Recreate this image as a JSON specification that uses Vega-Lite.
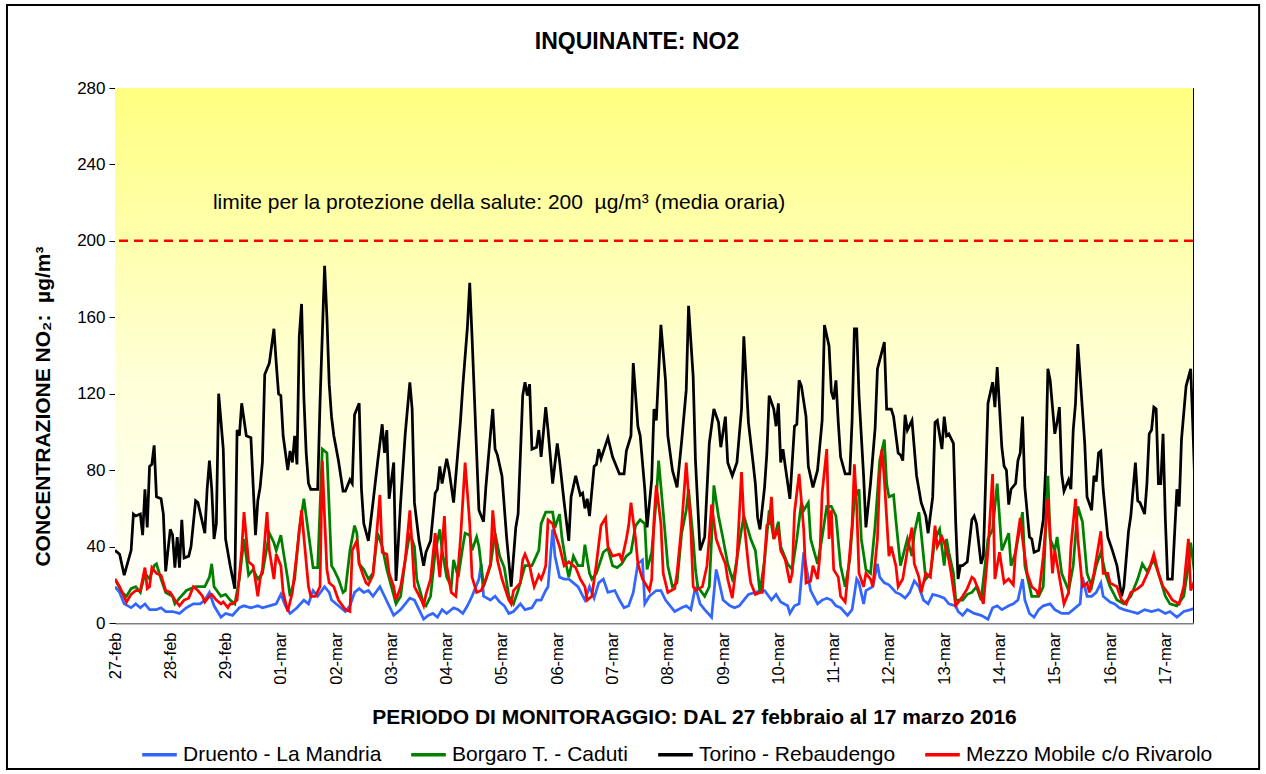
{
"$schema": "https://vega.github.io/schema/vega-lite/v6.json",
"width": 1078, "height": 535,
"autosize": {"type": "none"},
"padding": {"left": 115, "top": 88, "right": 73, "bottom": 151},
"background": "white",
"config": {"font": "Liberation Sans", "view": {"stroke": "black", "strokeWidth": 1}},
"datasets": {
"torino": [{"h":0,"v":38},{"h":2,"v":36},{"h":4,"v":25},{"h":7,"v":38},{"h":8,"v":57},{"h":9,"v":56},{"h":11,"v":57},{"h":12,"v":46},{"h":13,"v":70},{"h":14,"v":50},{"h":15,"v":82},{"h":16,"v":83},{"h":17,"v":93},{"h":18,"v":66},{"h":20,"v":65},{"h":21,"v":57},{"h":22,"v":27},{"h":24,"v":49},{"h":25,"v":46},{"h":26,"v":29},{"h":27,"v":45},{"h":28,"v":29},{"h":29,"v":54},{"h":30,"v":34},{"h":32,"v":35},{"h":33,"v":40},{"h":35,"v":64},{"h":36,"v":63},{"h":39,"v":47},{"h":40,"v":70},{"h":41,"v":85},{"h":42,"v":70},{"h":43,"v":44},{"h":44,"v":52},{"h":45,"v":120},{"h":47,"v":91},{"h":48,"v":44},{"h":50,"v":30},{"h":52,"v":18},{"h":53,"v":101},{"h":54,"v":98},{"h":55,"v":115},{"h":57,"v":98},{"h":59,"v":97},{"h":61,"v":46},{"h":62,"v":64},{"h":63,"v":71},{"h":64,"v":84},{"h":65,"v":130},{"h":67,"v":136},{"h":69,"v":154},{"h":70,"v":136},{"h":71,"v":120},{"h":72,"v":119},{"h":73,"v":98},{"h":75,"v":80},{"h":76,"v":90},{"h":77,"v":84},{"h":78,"v":98},{"h":79,"v":83},{"h":80,"v":150},{"h":81,"v":167},{"h":82,"v":118},{"h":83,"v":89},{"h":84,"v":73},{"h":85,"v":70},{"h":88,"v":70},{"h":89,"v":115},{"h":91,"v":187},{"h":92,"v":160},{"h":93,"v":125},{"h":94,"v":108},{"h":95,"v":98},{"h":97,"v":85},{"h":99,"v":69},{"h":100,"v":69},{"h":102,"v":75},{"h":103,"v":73},{"h":104,"v":109},{"h":106,"v":115},{"h":107,"v":70},{"h":108,"v":52},{"h":110,"v":43},{"h":112,"v":63},{"h":114,"v":84},{"h":116,"v":104},{"h":117,"v":89},{"h":118,"v":101},{"h":119,"v":65},{"h":121,"v":84},{"h":122,"v":22},{"h":123,"v":42},{"h":124,"v":63},{"h":126,"v":99},{"h":128,"v":126},{"h":129,"v":112},{"h":130,"v":63},{"h":132,"v":43},{"h":134,"v":30},{"h":135,"v":37},{"h":137,"v":43},{"h":139,"v":68},{"h":140,"v":70},{"h":141,"v":82},{"h":142,"v":73},{"h":144,"v":86},{"h":145,"v":80},{"h":147,"v":63},{"h":150,"v":106},{"h":151,"v":124},{"h":153,"v":155},{"h":154,"v":178},{"h":155,"v":150},{"h":157,"v":89},{"h":158,"v":59},{"h":160,"v":53},{"h":161,"v":71},{"h":163,"v":99},{"h":164,"v":112},{"h":165,"v":91},{"h":166,"v":88},{"h":168,"v":77},{"h":170,"v":45},{"h":172,"v":19},{"h":174,"v":50},{"h":175,"v":57},{"h":177,"v":119},{"h":178,"v":126},{"h":179,"v":119},{"h":180,"v":125},{"h":181,"v":91},{"h":183,"v":92},{"h":184,"v":101},{"h":185,"v":87},{"h":187,"v":113},{"h":188,"v":101},{"h":190,"v":73},{"h":192,"v":94},{"h":193,"v":85},{"h":195,"v":63},{"h":197,"v":43},{"h":198,"v":66},{"h":200,"v":77},{"h":202,"v":67},{"h":203,"v":68},{"h":204,"v":60},{"h":205,"v":65},{"h":206,"v":56},{"h":208,"v":82},{"h":209,"v":83},{"h":210,"v":91},{"h":211,"v":86},{"h":214,"v":97},{"h":216,"v":87},{"h":217,"v":84},{"h":219,"v":78},{"h":221,"v":78},{"h":222,"v":90},{"h":224,"v":98},{"h":225,"v":136},{"h":227,"v":103},{"h":228,"v":98},{"h":230,"v":70},{"h":231,"v":50},{"h":233,"v":75},{"h":234,"v":112},{"h":235,"v":106},{"h":237,"v":156},{"h":239,"v":127},{"h":240,"v":98},{"h":242,"v":80},{"h":244,"v":71},{"h":246,"v":95},{"h":248,"v":122},{"h":249,"v":166},{"h":251,"v":129},{"h":252,"v":85},{"h":254,"v":38},{"h":256,"v":45},{"h":258,"v":94},{"h":260,"v":112},{"h":262,"v":105},{"h":263,"v":92},{"h":265,"v":108},{"h":266,"v":84},{"h":268,"v":77},{"h":270,"v":84},{"h":272,"v":112},{"h":273,"v":150},{"h":275,"v":105},{"h":277,"v":84},{"h":278,"v":73},{"h":279,"v":55},{"h":280,"v":49},{"h":282,"v":71},{"h":283,"v":89},{"h":284,"v":119},{"h":286,"v":112},{"h":287,"v":103},{"h":288,"v":115},{"h":289,"v":84},{"h":290,"v":91},{"h":291,"v":82},{"h":293,"v":65},{"h":295,"v":103},{"h":296,"v":104},{"h":297,"v":127},{"h":298,"v":124},{"h":300,"v":108},{"h":301,"v":82},{"h":303,"v":71},{"h":305,"v":80},{"h":307,"v":106},{"h":308,"v":156},{"h":310,"v":145},{"h":311,"v":121},{"h":312,"v":117},{"h":313,"v":127},{"h":314,"v":105},{"h":315,"v":87},{"h":317,"v":78},{"h":319,"v":78},{"h":320,"v":106},{"h":321,"v":154},{"h":322,"v":154},{"h":323,"v":119},{"h":325,"v":77},{"h":326,"v":50},{"h":328,"v":73},{"h":330,"v":102},{"h":331,"v":133},{"h":334,"v":147},{"h":335,"v":112},{"h":337,"v":112},{"h":338,"v":108},{"h":340,"v":89},{"h":341,"v":88},{"h":342,"v":85},{"h":343,"v":109},{"h":344,"v":101},{"h":346,"v":106},{"h":348,"v":77},{"h":350,"v":63},{"h":352,"v":56},{"h":353,"v":47},{"h":355,"v":66},{"h":356,"v":105},{"h":357,"v":106},{"h":359,"v":91},{"h":360,"v":108},{"h":361,"v":98},{"h":362,"v":99},{"h":364,"v":94},{"h":365,"v":52},{"h":366,"v":23},{"h":367,"v":30},{"h":368,"v":30},{"h":369,"v":31},{"h":370,"v":32},{"h":372,"v":54},{"h":373,"v":56},{"h":374,"v":52},{"h":376,"v":31},{"h":377,"v":35},{"h":379,"v":115},{"h":381,"v":126},{"h":382,"v":113},{"h":383,"v":134},{"h":385,"v":92},{"h":386,"v":82},{"h":387,"v":80},{"h":388,"v":62},{"h":389,"v":70},{"h":391,"v":73},{"h":392,"v":85},{"h":393,"v":89},{"h":394,"v":108},{"h":395,"v":71},{"h":397,"v":45},{"h":398,"v":44},{"h":399,"v":37},{"h":401,"v":38},{"h":403,"v":54},{"h":404,"v":80},{"h":405,"v":133},{"h":406,"v":127},{"h":408,"v":99},{"h":409,"v":105},{"h":410,"v":113},{"h":411,"v":78},{"h":412,"v":69},{"h":414,"v":75},{"h":415,"v":70},{"h":416,"v":101},{"h":417,"v":115},{"h":418,"v":146},{"h":419,"v":129},{"h":421,"v":94},{"h":422,"v":66},{"h":424,"v":59},{"h":425,"v":77},{"h":426,"v":74},{"h":427,"v":89},{"h":428,"v":90},{"h":429,"v":70},{"h":431,"v":45},{"h":433,"v":38},{"h":435,"v":30},{"h":437,"v":14},{"h":438,"v":19},{"h":440,"v":48},{"h":441,"v":56},{"h":443,"v":84},{"h":444,"v":64},{"h":445,"v":63},{"h":447,"v":57},{"h":448,"v":73},{"h":449,"v":99},{"h":450,"v":101},{"h":451,"v":113},{"h":452,"v":112},{"h":453,"v":73},{"h":454,"v":73},{"h":455,"v":99},{"h":456,"v":54},{"h":457,"v":23},{"h":459,"v":23},{"h":461,"v":70},{"h":462,"v":61},{"h":463,"v":96},{"h":465,"v":124},{"h":467,"v":133},{"h":468,"v":101},{"h":469,"v":65}],
"borgaro": [{"h":0,"v":23},{"h":3,"v":16},{"h":5,"v":14},{"h":7,"v":18},{"h":9,"v":19},{"h":11,"v":16},{"h":13,"v":26},{"h":15,"v":23},{"h":17,"v":30},{"h":18,"v":31},{"h":20,"v":23},{"h":22,"v":16},{"h":25,"v":14},{"h":26,"v":10},{"h":28,"v":13},{"h":31,"v":17},{"h":35,"v":19},{"h":39,"v":19},{"h":41,"v":24},{"h":42,"v":31},{"h":43,"v":19},{"h":46,"v":14},{"h":48,"v":15},{"h":50,"v":12},{"h":52,"v":10},{"h":54,"v":23},{"h":56,"v":44},{"h":58,"v":25},{"h":60,"v":28},{"h":62,"v":23},{"h":64,"v":26},{"h":67,"v":47},{"h":69,"v":42},{"h":70,"v":38},{"h":72,"v":46},{"h":73,"v":38},{"h":75,"v":23},{"h":76,"v":14},{"h":78,"v":23},{"h":80,"v":49},{"h":82,"v":65},{"h":84,"v":47},{"h":86,"v":29},{"h":88,"v":29},{"h":90,"v":91},{"h":92,"v":89},{"h":94,"v":30},{"h":95,"v":28},{"h":97,"v":23},{"h":99,"v":16},{"h":100,"v":17},{"h":102,"v":38},{"h":104,"v":51},{"h":105,"v":47},{"h":106,"v":31},{"h":108,"v":28},{"h":110,"v":23},{"h":112,"v":26},{"h":114,"v":47},{"h":116,"v":40},{"h":118,"v":28},{"h":120,"v":19},{"h":122,"v":10},{"h":124,"v":14},{"h":126,"v":33},{"h":128,"v":47},{"h":130,"v":40},{"h":131,"v":23},{"h":134,"v":10},{"h":135,"v":9},{"h":137,"v":14},{"h":139,"v":37},{"h":141,"v":49},{"h":142,"v":38},{"h":144,"v":24},{"h":146,"v":19},{"h":147,"v":33},{"h":149,"v":24},{"h":151,"v":40},{"h":152,"v":47},{"h":154,"v":46},{"h":155,"v":38},{"h":157,"v":45},{"h":158,"v":40},{"h":160,"v":19},{"h":163,"v":30},{"h":165,"v":47},{"h":167,"v":35},{"h":169,"v":29},{"h":171,"v":14},{"h":173,"v":10},{"h":175,"v":17},{"h":178,"v":30},{"h":181,"v":30},{"h":184,"v":38},{"h":185,"v":52},{"h":187,"v":58},{"h":190,"v":58},{"h":191,"v":50},{"h":193,"v":57},{"h":194,"v":45},{"h":196,"v":30},{"h":197,"v":24},{"h":199,"v":35},{"h":201,"v":30},{"h":203,"v":30},{"h":204,"v":41},{"h":206,"v":26},{"h":207,"v":23},{"h":209,"v":26},{"h":212,"v":37},{"h":214,"v":39},{"h":216,"v":30},{"h":218,"v":29},{"h":220,"v":31},{"h":222,"v":35},{"h":224,"v":37},{"h":226,"v":51},{"h":228,"v":54},{"h":230,"v":52},{"h":231,"v":28},{"h":233,"v":37},{"h":235,"v":65},{"h":236,"v":85},{"h":238,"v":58},{"h":240,"v":30},{"h":242,"v":19},{"h":244,"v":21},{"h":246,"v":47},{"h":248,"v":59},{"h":249,"v":70},{"h":251,"v":44},{"h":252,"v":28},{"h":253,"v":19},{"h":256,"v":14},{"h":258,"v":19},{"h":259,"v":44},{"h":260,"v":72},{"h":262,"v":56},{"h":264,"v":44},{"h":266,"v":31},{"h":268,"v":23},{"h":269,"v":26},{"h":272,"v":49},{"h":273,"v":56},{"h":274,"v":52},{"h":276,"v":44},{"h":278,"v":38},{"h":280,"v":16},{"h":282,"v":33},{"h":284,"v":59},{"h":286,"v":44},{"h":288,"v":53},{"h":289,"v":40},{"h":292,"v":31},{"h":294,"v":28},{"h":296,"v":44},{"h":298,"v":63},{"h":299,"v":59},{"h":301,"v":63},{"h":302,"v":44},{"h":305,"v":31},{"h":307,"v":45},{"h":309,"v":61},{"h":311,"v":61},{"h":313,"v":56},{"h":315,"v":30},{"h":317,"v":19},{"h":319,"v":33},{"h":321,"v":65},{"h":323,"v":70},{"h":324,"v":44},{"h":326,"v":28},{"h":328,"v":26},{"h":330,"v":51},{"h":332,"v":85},{"h":334,"v":96},{"h":335,"v":73},{"h":336,"v":66},{"h":338,"v":67},{"h":339,"v":54},{"h":341,"v":30},{"h":344,"v":44},{"h":346,"v":35},{"h":347,"v":47},{"h":349,"v":58},{"h":350,"v":47},{"h":352,"v":23},{"h":354,"v":26},{"h":356,"v":44},{"h":358,"v":49},{"h":360,"v":30},{"h":361,"v":44},{"h":362,"v":37},{"h":364,"v":26},{"h":365,"v":12},{"h":368,"v":12},{"h":370,"v":15},{"h":372,"v":16},{"h":374,"v":19},{"h":376,"v":12},{"h":379,"v":44},{"h":381,"v":49},{"h":383,"v":73},{"h":385,"v":38},{"h":388,"v":47},{"h":389,"v":30},{"h":391,"v":37},{"h":394,"v":58},{"h":395,"v":30},{"h":398,"v":14},{"h":401,"v":14},{"h":403,"v":19},{"h":405,"v":77},{"h":406,"v":44},{"h":408,"v":38},{"h":409,"v":45},{"h":411,"v":26},{"h":414,"v":17},{"h":416,"v":30},{"h":418,"v":61},{"h":420,"v":53},{"h":422,"v":26},{"h":424,"v":19},{"h":426,"v":30},{"h":428,"v":37},{"h":430,"v":26},{"h":432,"v":19},{"h":435,"v":12},{"h":438,"v":10},{"h":441,"v":14},{"h":444,"v":23},{"h":446,"v":31},{"h":448,"v":27},{"h":451,"v":33},{"h":453,"v":26},{"h":456,"v":14},{"h":458,"v":10},{"h":461,"v":9},{"h":464,"v":14},{"h":466,"v":30},{"h":467,"v":42},{"h":469,"v":23}],
"mezzo": [{"h":0,"v":23},{"h":2,"v":19},{"h":5,"v":11},{"h":7,"v":15},{"h":9,"v":17},{"h":11,"v":17},{"h":13,"v":29},{"h":14,"v":18},{"h":15,"v":19},{"h":16,"v":29},{"h":18,"v":26},{"h":20,"v":25},{"h":22,"v":17},{"h":24,"v":16},{"h":26,"v":12},{"h":28,"v":9},{"h":30,"v":12},{"h":32,"v":13},{"h":34,"v":19},{"h":36,"v":17},{"h":38,"v":14},{"h":39,"v":11},{"h":41,"v":14},{"h":42,"v":15},{"h":44,"v":12},{"h":46,"v":10},{"h":47,"v":11},{"h":49,"v":8},{"h":50,"v":10},{"h":51,"v":10},{"h":53,"v":12},{"h":55,"v":38},{"h":56,"v":58},{"h":58,"v":32},{"h":60,"v":30},{"h":62,"v":14},{"h":63,"v":23},{"h":64,"v":28},{"h":66,"v":58},{"h":67,"v":38},{"h":69,"v":23},{"h":70,"v":36},{"h":72,"v":30},{"h":73,"v":16},{"h":75,"v":6},{"h":77,"v":16},{"h":79,"v":37},{"h":81,"v":59},{"h":82,"v":45},{"h":84,"v":19},{"h":85,"v":14},{"h":87,"v":14},{"h":89,"v":19},{"h":90,"v":85},{"h":91,"v":55},{"h":92,"v":28},{"h":93,"v":21},{"h":95,"v":19},{"h":97,"v":12},{"h":100,"v":7},{"h":102,"v":6},{"h":103,"v":38},{"h":105,"v":43},{"h":106,"v":31},{"h":108,"v":24},{"h":109,"v":21},{"h":110,"v":20},{"h":112,"v":25},{"h":113,"v":38},{"h":115,"v":67},{"h":116,"v":37},{"h":118,"v":36},{"h":119,"v":26},{"h":121,"v":19},{"h":122,"v":12},{"h":124,"v":19},{"h":126,"v":33},{"h":128,"v":59},{"h":129,"v":40},{"h":130,"v":19},{"h":133,"v":12},{"h":134,"v":9},{"h":135,"v":15},{"h":137,"v":23},{"h":139,"v":47},{"h":141,"v":24},{"h":142,"v":40},{"h":143,"v":56},{"h":144,"v":30},{"h":146,"v":16},{"h":148,"v":14},{"h":150,"v":44},{"h":152,"v":84},{"h":154,"v":52},{"h":155,"v":24},{"h":157,"v":16},{"h":159,"v":17},{"h":161,"v":23},{"h":163,"v":31},{"h":164,"v":59},{"h":166,"v":33},{"h":168,"v":23},{"h":171,"v":12},{"h":172,"v":10},{"h":173,"v":17},{"h":176,"v":21},{"h":177,"v":33},{"h":178,"v":36},{"h":180,"v":30},{"h":181,"v":24},{"h":182,"v":19},{"h":184,"v":25},{"h":185,"v":23},{"h":186,"v":26},{"h":187,"v":30},{"h":188,"v":54},{"h":190,"v":52},{"h":191,"v":47},{"h":193,"v":40},{"h":195,"v":30},{"h":197,"v":32},{"h":200,"v":29},{"h":202,"v":23},{"h":204,"v":19},{"h":205,"v":12},{"h":207,"v":14},{"h":209,"v":31},{"h":211,"v":51},{"h":213,"v":55},{"h":214,"v":40},{"h":216,"v":35},{"h":219,"v":36},{"h":220,"v":33},{"h":222,"v":44},{"h":223,"v":51},{"h":224,"v":63},{"h":226,"v":44},{"h":227,"v":31},{"h":229,"v":23},{"h":232,"v":17},{"h":233,"v":23},{"h":234,"v":54},{"h":235,"v":72},{"h":237,"v":52},{"h":238,"v":26},{"h":240,"v":16},{"h":243,"v":18},{"h":244,"v":26},{"h":246,"v":51},{"h":248,"v":84},{"h":250,"v":49},{"h":251,"v":19},{"h":252,"v":17},{"h":255,"v":19},{"h":257,"v":30},{"h":258,"v":45},{"h":259,"v":62},{"h":261,"v":44},{"h":263,"v":37},{"h":265,"v":31},{"h":266,"v":23},{"h":268,"v":13},{"h":270,"v":33},{"h":272,"v":79},{"h":273,"v":54},{"h":275,"v":30},{"h":276,"v":21},{"h":278,"v":15},{"h":280,"v":16},{"h":281,"v":16},{"h":283,"v":51},{"h":284,"v":52},{"h":285,"v":66},{"h":286,"v":44},{"h":288,"v":49},{"h":289,"v":38},{"h":291,"v":33},{"h":293,"v":21},{"h":294,"v":26},{"h":295,"v":58},{"h":297,"v":78},{"h":299,"v":49},{"h":300,"v":21},{"h":302,"v":22},{"h":303,"v":30},{"h":305,"v":23},{"h":306,"v":35},{"h":307,"v":68},{"h":309,"v":91},{"h":310,"v":44},{"h":311,"v":59},{"h":312,"v":28},{"h":314,"v":24},{"h":315,"v":14},{"h":317,"v":11},{"h":318,"v":23},{"h":320,"v":51},{"h":321,"v":83},{"h":322,"v":61},{"h":323,"v":26},{"h":325,"v":19},{"h":326,"v":26},{"h":328,"v":23},{"h":329,"v":19},{"h":331,"v":44},{"h":332,"v":78},{"h":333,"v":91},{"h":334,"v":75},{"h":336,"v":35},{"h":337,"v":40},{"h":339,"v":30},{"h":340,"v":19},{"h":342,"v":23},{"h":344,"v":38},{"h":346,"v":50},{"h":347,"v":31},{"h":349,"v":24},{"h":350,"v":16},{"h":352,"v":26},{"h":354,"v":24},{"h":356,"v":51},{"h":357,"v":40},{"h":359,"v":45},{"h":360,"v":42},{"h":362,"v":33},{"h":363,"v":26},{"h":365,"v":9},{"h":368,"v":14},{"h":370,"v":18},{"h":372,"v":24},{"h":373,"v":23},{"h":375,"v":17},{"h":377,"v":10},{"h":379,"v":38},{"h":381,"v":78},{"h":382,"v":23},{"h":384,"v":37},{"h":386,"v":21},{"h":388,"v":23},{"h":390,"v":20},{"h":391,"v":38},{"h":393,"v":55},{"h":394,"v":44},{"h":396,"v":26},{"h":398,"v":19},{"h":400,"v":17},{"h":401,"v":14},{"h":403,"v":35},{"h":405,"v":65},{"h":407,"v":26},{"h":408,"v":38},{"h":410,"v":24},{"h":412,"v":10},{"h":414,"v":16},{"h":415,"v":40},{"h":417,"v":65},{"h":418,"v":44},{"h":420,"v":19},{"h":422,"v":21},{"h":423,"v":16},{"h":425,"v":26},{"h":428,"v":48},{"h":429,"v":26},{"h":431,"v":26},{"h":432,"v":21},{"h":435,"v":19},{"h":437,"v":12},{"h":439,"v":10},{"h":441,"v":16},{"h":444,"v":18},{"h":446,"v":20},{"h":449,"v":28},{"h":451,"v":36},{"h":453,"v":26},{"h":455,"v":19},{"h":457,"v":16},{"h":459,"v":12},{"h":462,"v":10},{"h":464,"v":19},{"h":466,"v":44},{"h":467,"v":17},{"h":469,"v":23}],
"druento": [{"h":0,"v":19},{"h":2,"v":16},{"h":4,"v":10},{"h":7,"v":8},{"h":9,"v":10},{"h":11,"v":8},{"h":13,"v":10},{"h":15,"v":7},{"h":18,"v":7},{"h":20,"v":8},{"h":22,"v":6},{"h":25,"v":6},{"h":28,"v":5},{"h":31,"v":8},{"h":34,"v":10},{"h":37,"v":10},{"h":39,"v":12},{"h":41,"v":16},{"h":43,"v":9},{"h":46,"v":3},{"h":48,"v":5},{"h":51,"v":4},{"h":54,"v":8},{"h":56,"v":9},{"h":59,"v":8},{"h":62,"v":9},{"h":64,"v":8},{"h":67,"v":9},{"h":70,"v":10},{"h":72,"v":15},{"h":74,"v":9},{"h":76,"v":5},{"h":79,"v":8},{"h":82,"v":12},{"h":84,"v":10},{"h":86,"v":17},{"h":88,"v":14},{"h":91,"v":19},{"h":93,"v":16},{"h":94,"v":12},{"h":97,"v":9},{"h":100,"v":6},{"h":102,"v":9},{"h":104,"v":16},{"h":106,"v":18},{"h":108,"v":16},{"h":110,"v":17},{"h":112,"v":14},{"h":115,"v":19},{"h":117,"v":14},{"h":119,"v":9},{"h":121,"v":4},{"h":124,"v":7},{"h":126,"v":10},{"h":128,"v":13},{"h":130,"v":12},{"h":132,"v":7},{"h":134,"v":2},{"h":136,"v":4},{"h":138,"v":5},{"h":140,"v":3},{"h":142,"v":7},{"h":144,"v":5},{"h":147,"v":8},{"h":149,"v":7},{"h":151,"v":5},{"h":153,"v":9},{"h":155,"v":14},{"h":158,"v":23},{"h":159,"v":31},{"h":160,"v":14},{"h":163,"v":12},{"h":165,"v":14},{"h":167,"v":11},{"h":169,"v":9},{"h":171,"v":5},{"h":173,"v":6},{"h":176,"v":10},{"h":178,"v":7},{"h":181,"v":8},{"h":183,"v":12},{"h":185,"v":12},{"h":187,"v":17},{"h":188,"v":19},{"h":190,"v":49},{"h":191,"v":35},{"h":193,"v":24},{"h":195,"v":23},{"h":197,"v":23},{"h":199,"v":21},{"h":201,"v":19},{"h":204,"v":12},{"h":206,"v":19},{"h":208,"v":13},{"h":210,"v":21},{"h":212,"v":23},{"h":214,"v":16},{"h":217,"v":17},{"h":219,"v":12},{"h":221,"v":8},{"h":223,"v":9},{"h":225,"v":16},{"h":227,"v":31},{"h":229,"v":33},{"h":230,"v":10},{"h":232,"v":14},{"h":235,"v":17},{"h":237,"v":17},{"h":239,"v":12},{"h":241,"v":9},{"h":243,"v":6},{"h":246,"v":8},{"h":248,"v":9},{"h":250,"v":7},{"h":252,"v":19},{"h":254,"v":10},{"h":256,"v":7},{"h":259,"v":3},{"h":261,"v":28},{"h":262,"v":23},{"h":264,"v":12},{"h":267,"v":9},{"h":269,"v":8},{"h":271,"v":9},{"h":273,"v":12},{"h":275,"v":15},{"h":278,"v":16},{"h":280,"v":17},{"h":282,"v":17},{"h":285,"v":12},{"h":287,"v":15},{"h":289,"v":11},{"h":292,"v":9},{"h":293,"v":5},{"h":295,"v":9},{"h":297,"v":10},{"h":299,"v":37},{"h":300,"v":30},{"h":302,"v":17},{"h":305,"v":10},{"h":307,"v":12},{"h":309,"v":13},{"h":311,"v":12},{"h":313,"v":9},{"h":315,"v":8},{"h":318,"v":4},{"h":320,"v":7},{"h":322,"v":23},{"h":323,"v":21},{"h":325,"v":10},{"h":326,"v":17},{"h":329,"v":19},{"h":331,"v":31},{"h":332,"v":24},{"h":334,"v":21},{"h":336,"v":20},{"h":339,"v":16},{"h":341,"v":15},{"h":343,"v":13},{"h":345,"v":16},{"h":347,"v":22},{"h":349,"v":19},{"h":351,"v":12},{"h":353,"v":10},{"h":355,"v":15},{"h":358,"v":14},{"h":360,"v":13},{"h":362,"v":10},{"h":365,"v":9},{"h":366,"v":6},{"h":368,"v":4},{"h":370,"v":7},{"h":373,"v":5},{"h":376,"v":4},{"h":379,"v":2},{"h":381,"v":8},{"h":383,"v":9},{"h":385,"v":7},{"h":388,"v":9},{"h":390,"v":10},{"h":392,"v":12},{"h":394,"v":23},{"h":395,"v":12},{"h":397,"v":5},{"h":399,"v":3},{"h":401,"v":7},{"h":403,"v":9},{"h":406,"v":10},{"h":408,"v":7},{"h":411,"v":5},{"h":414,"v":5},{"h":416,"v":7},{"h":419,"v":10},{"h":420,"v":24},{"h":422,"v":14},{"h":424,"v":14},{"h":426,"v":16},{"h":428,"v":21},{"h":429,"v":14},{"h":432,"v":11},{"h":434,"v":10},{"h":436,"v":8},{"h":438,"v":7},{"h":441,"v":6},{"h":444,"v":5},{"h":447,"v":7},{"h":450,"v":6},{"h":453,"v":7},{"h":456,"v":5},{"h":458,"v":6},{"h":461,"v":3},{"h":464,"v":6},{"h":467,"v":7},{"h":469,"v":8}]
},
"layer": [
 {"data": {"values": [{}]}, "mark": {"type": "rect", "fill": {"gradient": "linear", "x1": 0, "y1": 0, "x2": 0, "y2": 1, "stops": [{"offset": 0, "color": "#FFFF80"}, {"offset": 0.55, "color": "#FFFFD8"}, {"offset": 1, "color": "#FFFFFF"}]}}, "encoding": {}},
 {"data": {"values": [{}]}, "mark": {"type": "rect", "fillOpacity": 0, "fill": "white", "stroke": "black", "strokeWidth": 2, "clip": false}, "encoding": {"x": {"datum": -46.9, "type": "quantitative"}, "x2": {"datum": 496.7}, "y": {"datum": 323.4, "type": "quantitative"}, "y2": {"datum": -76.4}}},
 {"data": {"values": [{}]}, "mark": {"type": "rule", "color": "#FF0000", "strokeWidth": 2.5, "strokeDash": [9, 6]}, "encoding": {"y": {"datum": 200}}},
 {"data": {"values": [{"label": "limite per la protezione della salute: 200\u00a0 µg/m³ (media oraria)"}]}, "mark": {"type": "text", "align": "left", "baseline": "middle", "fontSize": 21, "font": "Liberation Sans", "color": "black"}, "encoding": {"x": {"datum": 42.5}, "y": {"datum": 220}, "text": {"field": "label"}}},
 {"data": {"values": [{"label": "INQUINANTE: NO2"}]}, "mark": {"type": "text", "align": "center", "baseline": "middle", "fontSize": 23, "fontWeight": "bold", "font": "Liberation Sans", "color": "black", "clip": false}, "encoding": {"x": {"datum": 226.6}, "y": {"datum": 304}, "text": {"field": "label"}}},
 {
  "encoding": {
   "x": {"field": "h", "type": "quantitative", "scale": {"domain": [0, 468], "nice": false, "zero": false},
    "axis": {"values": [0,24,48,72,96,120,144,168,192,216,240,264,288,312,336,360,384,408,432,456],
     "labelExpr": "['27-feb','28-feb','29-feb','01-mar','02-mar','03-mar','04-mar','05-mar','06-mar','07-mar','08-mar','09-mar','10-mar','11-mar','12-mar','13-mar','14-mar','15-mar','16-mar','17-mar'][round(datum.value/24)]",
     "labelAngle": 270, "ticks": false, "tickSize": 0, "grid": false, "labelFontSize": 16.5, "labelColor": "black", "labelPadding": 9, "labelFlush": false, "labelOverlap": false, "labelBound": false,
     "domainColor": "#808080", "domainWidth": 2,
     "title": "PERIODO DI MONITORAGGIO: DAL 27 febbraio al 17 marzo 2016", "titleFontSize": 21, "titleFontWeight": "bold", "titleColor": "black", "titleX": 579, "titleY": 94, "titleAlign": "center", "titleBaseline": "middle"}},
   "y": {"field": "v", "type": "quantitative", "scale": {"domain": [0, 280], "nice": false},
    "axis": {"values": [0,40,80,120,160,200,240,280], "grid": false, "tickSize": 6, "tickColor": "black", "domainColor": "black", "labelFontSize": 17, "labelColor": "black", "labelPadding": 4,
     "title": "CONCENTRAZIONE NO₂:\u00a0 µg/m³", "titleFontSize": 21, "titleFontWeight": "bold", "titleColor": "black", "titleX": -72, "titleY": 318, "titleAlign": "center", "titleBaseline": "middle", "titleAngle": 270}}
  },
  "layer": [
   {"data": {"name": "druento"}, "mark": {"type": "line", "strokeWidth": 2.75, "clip": true}, "encoding": {"color": {"datum": "Druento - La Mandria", "type": "nominal", "scale": {"domain": ["Druento - La Mandria", "Borgaro T. - Caduti", "Torino - Rebaudengo", "Mezzo Mobile c/o Rivarolo"], "range": ["#3366FF", "#008000", "#000000", "#FF0000"]},
     "legend": {"title": null, "orient": "none", "legendX": 25, "legendY": 647, "direction": "horizontal", "symbolType": "stroke", "symbolSize": 1200, "symbolStrokeWidth": 3.5, "labelFontSize": 21, "labelFont": "Liberation Sans", "labelColor": "black", "labelOffset": 4, "labelLimit": 500, "columnPadding": 22, "symbolOffset": 0}}}},
   {"data": {"name": "borgaro"}, "mark": {"type": "line", "strokeWidth": 2.75, "clip": true}, "encoding": {"color": {"datum": "Borgaro T. - Caduti", "type": "nominal"}}},
   {"data": {"name": "torino"}, "mark": {"type": "line", "strokeWidth": 2.75, "clip": true}, "encoding": {"color": {"datum": "Torino - Rebaudengo", "type": "nominal"}}},
   {"data": {"name": "mezzo"}, "mark": {"type": "line", "strokeWidth": 2.75, "clip": true}, "encoding": {"color": {"datum": "Mezzo Mobile c/o Rivarolo", "type": "nominal"}}}
  ]
 }
]
}
